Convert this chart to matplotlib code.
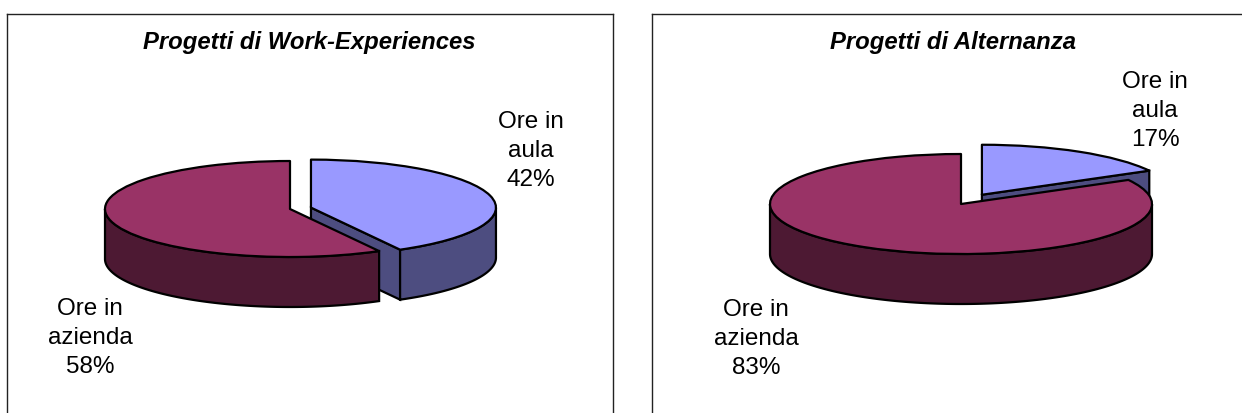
import numpy as np
import matplotlib
matplotlib.use("Agg")
import matplotlib.pyplot as plt
from matplotlib.patches import Polygon

categories = ["Ore in\naula", "Ore in\nazienda"]
work_experiences = [42, 58]
alternanza = [17, 83]
titles = ["Progetti di Work-Experiences", "Progetti di Alternanza"]

TOP_COLORS = ["#9999FF", "#993366"]
WALL_COLORS = ["#4D4D80", "#4D1933"]
W, H = 1242, 414
LW = 1.6

plt.rcParams["font.family"] = ["Liberation Sans", "DejaVu Sans"]
fig = plt.figure(figsize=(W / 100, H / 100), dpi=100, facecolor="white")


def panel(values, title, box, centre, radii, explode, depth, title_xy, label_xy, spines):
    x0, x1, y0, y1 = box
    cx, cy = centre
    rx, ry = radii
    ax = fig.add_axes([x0 / W, 1 - y1 / H, (x1 - x0) / W, (y1 - y0) / H])
    wedges, _ = ax.pie(values, explode=explode, startangle=90, counterclock=False,
                       colors=TOP_COLORS, radius=1, frame=True,
                       wedgeprops=dict(edgecolor="black", linewidth=LW, joinstyle="round"))
    ax.set_aspect("auto")
    ax.set_xlim((x0 - cx) / rx, (x1 - cx) / rx)
    ax.set_ylim((cy - y1) / ry, (cy - y0) / ry)
    ax.set_xticks([])
    ax.set_yticks([])
    for name, sp in ax.spines.items():
        sp.set_visible(name in spines)
        sp.set_linewidth(1.0)
        sp.set_color("#222222")
    d = depth / ry
    for i, w in enumerate(wedges):
        base = 2 + 2 * i
        w.set_zorder(base + 1)
        c = np.array(w.center, dtype=float)
        # cut face at the clockwise end of the slice
        t1 = np.deg2rad(w.theta1)
        if np.sin(t1 - np.pi / 2) < -1e-6:
            e = c + np.array([np.cos(t1), np.sin(t1)])
            ax.add_patch(Polygon([c, e, e - [0, d], c - [0, d]], closed=True,
                                 facecolor=WALL_COLORS[i], edgecolor="black",
                                 linewidth=LW, zorder=base))
        # outer wall: the part of the rim that faces the viewer
        th = np.deg2rad(np.linspace(w.theta1, w.theta2, 720))
        th = th[np.sin(th) < 0]
        if th.size:
            rim = np.column_stack([c[0] + np.cos(th), c[1] + np.sin(th)])
            low = rim[::-1] - [0, d]
            ax.add_patch(Polygon(np.vstack([rim, low]), closed=True,
                                 facecolor=WALL_COLORS[i], edgecolor="black",
                                 linewidth=LW, zorder=base))
    fig.text(title_xy[0] / W, 1 - title_xy[1] / H, title, ha="center", va="center",
             fontsize=17.2, fontweight="bold", fontstyle="italic", color="black")
    for name, val, (lx, ly) in zip(categories, values, label_xy):
        fig.text(lx / W, 1 - ly / H, f"{name}\n{val}%", ha="center", va="center",
                 fontsize=17.5, linespacing=1.43, color="black")


panel(work_experiences, titles[0], (7, 613, 15, 414), (290, 210), (185, 48),
      [0.117, 0], 50, (309, 43), [(531, 151), (90, 338)], ("left", "top", "right"))
panel(alternanza, titles[1], (652, 1242, 15, 414), (961, 205), (191, 50),
      [0.215, 0], 50, (953, 43), [(1155, 111), (756, 339)], ("left", "top"))

fig.savefig("out.png", dpi=100, facecolor="white")
